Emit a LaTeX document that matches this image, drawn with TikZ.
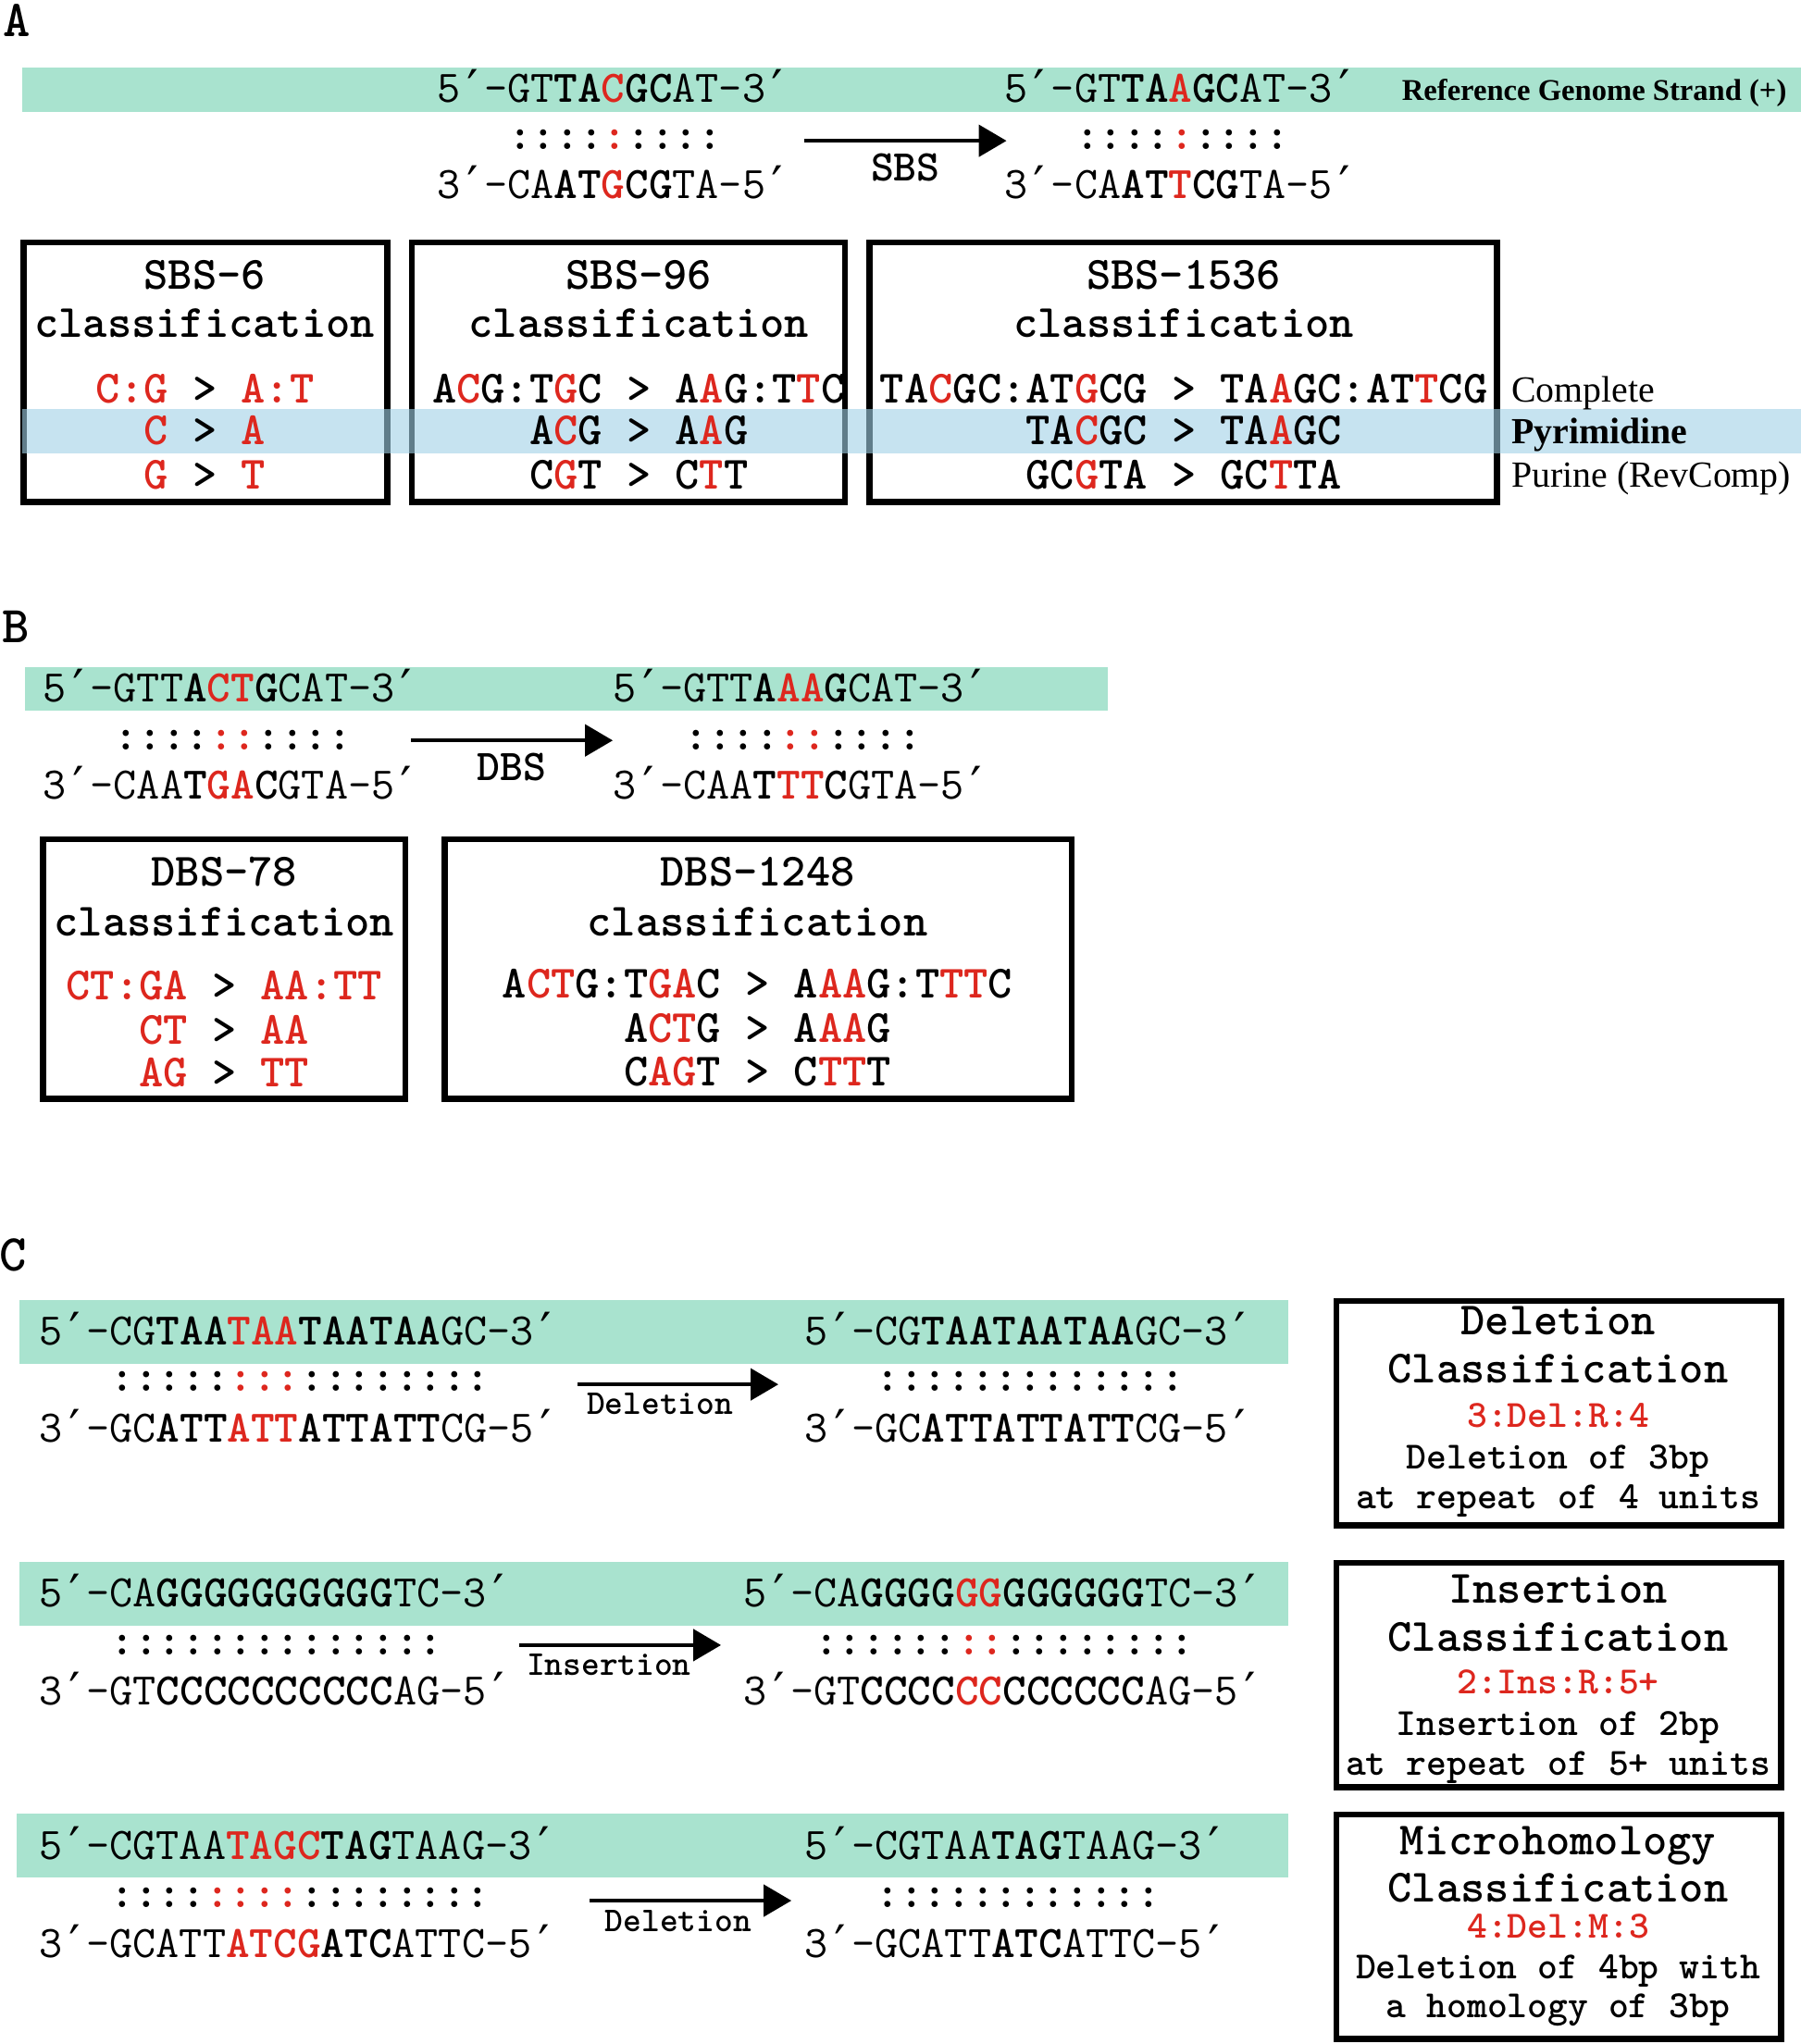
\documentclass[tikz,border=0pt]{standalone}
\usepackage{fontspec}
\usepackage{tikz}
\usetikzlibrary{arrows.meta, positioning, fit}
\newfontfamily\serif{Liberation Serif}
\newfontfamily\primefont{DejaVu Sans Mono}
\definecolor{seqgreen}{RGB}{169,227,207}
\definecolor{pyrblue}{RGB}{160,209,230}
\definecolor{mutred}{RGB}{221,39,30}
\newcommand\seqfont{\ttfamily\fontsize{24.4}{26}\selectfont}
\newcommand\ctfont{\ttfamily\bfseries\fontsize{25}{27}\selectfont}
\newcommand\clfont{\ttfamily\bfseries\fontsize{20.8}{22}\selectfont}
\newcommand\lbfont{\ttfamily\bfseries\fontsize{23.7}{25}\selectfont}
\newcommand\lbsfont{\ttfamily\bfseries\fontsize{18.8}{20}\selectfont}
\def\bb#1{\textbf{#1}}
\def\rr#1{\textcolor{mutred}{\textbf{#1}}}
\def\rd#1{\textcolor{mutred}{#1}}
\def\pr{\makebox[12.81pt][c]{\raisebox{-2pt}{\primefont\mdseries\fontsize{27}{27}\selectfont ′}}}
\def\gap{\phantom{5\pr-}}

\begin{document}
\begin{tikzpicture}[x=0.7042pt, y=-0.7042pt,
    seq/.style={font=\seqfont, inner sep=0pt, anchor=west, text height=14.9pt, text depth=0pt},
    pairs/.style={font=\seqfont\bfseries, inner sep=0pt, anchor=west, text height=10.5pt, text depth=0pt},
    cbox/.style={draw, line width=3.2pt, inner sep=0pt},
    ctitle/.style={font=\ctfont, inner sep=0pt, text height=15.2pt, text depth=0pt},
    cline/.style={font=\clfont, inner sep=0pt, text height=12.7pt, text depth=0pt},
    mutarrow/.style={line width=2.2pt, -{Triangle[length=15pt, width=17pt]}},
    lbl/.style={font=\lbfont, inner sep=0pt, text height=14.5pt, text depth=0pt},
    lbls/.style={font=\lbsfont, inner sep=0pt, text height=11.5pt, text depth=0pt},
    side/.style={font=\serif\fontsize{19.9}{22}\selectfont, inner sep=0pt, anchor=west, text height=13.2pt, text depth=0pt},
    panel/.style={font=\ttfamily\bfseries\fontsize{28}{30}\selectfont, inner sep=0pt, text height=17pt, text depth=0pt}]
\useasboundingbox (0,0) rectangle (1381,1568);

% strand bands
\fill[seqgreen] (17,52) rectangle (1381,86);
\fill[seqgreen] (19,512) rectangle (850,545);
\fill[seqgreen] (15,997) rectangle (988,1046);
\fill[seqgreen] (15,1198) rectangle (988,1247);
\fill[seqgreen] (13,1391) rectangle (988,1440);

% classification boxes
\node[cbox, fit={(18,186) (297,385)}] (sbs6) {};
\node[cbox, fit={(316,186) (648,385)}] (sbs96) {};
\node[cbox, fit={(667,186) (1148,385)}] (sbs1536) {};
\node[cbox, fit={(33,644) (311,843)}] (dbs78) {};
\node[cbox, fit={(341,644) (822,843)}] (dbs1248) {};
\node[cbox, fit={(1025,998) (1366,1170)}] (delbox) {};
\node[cbox, fit={(1025,1199) (1366,1371)}] (insbox) {};
\node[cbox, fit={(1025,1392) (1366,1564)}] (mhbox) {};

% pyrimidine row
\fill[pyrblue, fill opacity=0.6] (17,314) rectangle (1381,348);

% panel A
\node[panel] (labA) at (13,16) {A};
\node[seq] (sbsTopL) at (335,68) {5\pr-GT\bb{TA}\rr{C}\bb{GC}AT-3\pr};
\node[pairs] (sbsPairL) at (335,107) {\gap::::\rd{:}::::};
\node[seq] (sbsBotL) at (335,142) {3\pr-CA\bb{AT}\rr{G}\bb{CG}TA-5\pr};
\node[seq] (sbsTopR) at (770,68) {5\pr-GT\bb{TA}\rr{A}\bb{GC}AT-3\pr};
\node[pairs] (sbsPairR) at (770,107) {\gap::::\rd{:}::::};
\node[seq] (sbsBotR) at (770,142) {3\pr-CA\bb{AT}\rr{T}\bb{CG}TA-5\pr};
\node[side, font=\serif\bfseries\fontsize{16.3}{18}\selectfont, text height=11pt] (refname) at (1075,69) {Reference Genome Strand (+)};
\coordinate (sbsFrom) at (617,108);
\coordinate (sbsTo) at (772,108);
\draw[mutarrow] (sbsFrom) -- (sbsTo) node[lbl, pos=0.5, below=6pt] (sbsLab) {SBS};

\node[ctitle] (sbs6a) at (157,211) {SBS-6};
\node[ctitle] (sbs6b) at (157,248) {classification};
\node[ctitle] (sbs6c) at (157,298) {\rd{C:G} > \rd{A:T}};
\node[ctitle] (sbs6d) at (157,330) {\rd{C} > \rd{A}};
\node[ctitle] (sbs6e) at (157,364) {\rd{G} > \rd{T}};

\node[ctitle] (sbs96a) at (490,211) {SBS-96};
\node[ctitle] (sbs96b) at (490,248) {classification};
\node[ctitle] (sbs96c) at (490,298) {A\rd{C}G:T\rd{G}C > A\rd{A}G:T\rd{T}C};
\node[ctitle] (sbs96d) at (490,330) {A\rd{C}G > A\rd{A}G};
\node[ctitle] (sbs96e) at (490,364) {C\rd{G}T > C\rd{T}T};

\node[ctitle] (sbs1536a) at (908,211) {SBS-1536};
\node[ctitle] (sbs1536b) at (908,248) {classification};
\node[ctitle] (sbs1536c) at (908,298) {TA\rd{C}GC:AT\rd{G}CG > TA\rd{A}GC:AT\rd{T}CG};
\node[ctitle] (sbs1536d) at (908,330) {TA\rd{C}GC > TA\rd{A}GC};
\node[ctitle] (sbs1536e) at (908,364) {GC\rd{G}TA > GC\rd{T}TA};

\node[side] (complete) at (1159,299) {Complete};
\node[side, font=\serif\bfseries\fontsize{19.9}{22}\selectfont] (pyrim) at (1159,331) {Pyrimidine};
\node[side] (purine) at (1159,364) {Purine (RevComp)};

% panel B
\node[panel] (labB) at (12,481) {B};
\node[seq] (dbsTopL) at (33,528) {5\pr-GTT\bb{A}\rr{CT}\bb{G}CAT-3\pr};
\node[pairs] (dbsPairL) at (33,568) {\gap::::\rd{::}::::};
\node[seq] (dbsBotL) at (33,602) {3\pr-CAA\bb{T}\rr{GA}\bb{C}GTA-5\pr};
\node[seq] (dbsTopR) at (470,528) {5\pr-GTT\bb{A}\rr{AA}\bb{G}CAT-3\pr};
\node[pairs] (dbsPairR) at (470,568) {\gap::::\rd{::}::::};
\node[seq] (dbsBotR) at (470,602) {3\pr-CAA\bb{T}\rr{TT}\bb{C}GTA-5\pr};
\coordinate (dbsFrom) at (315,568);
\coordinate (dbsTo) at (470,568);
\draw[mutarrow] (dbsFrom) -- (dbsTo) node[lbl, pos=0.5, below=6pt] (dbsLab) {DBS};

\node[ctitle] (dbs78a) at (172,669) {DBS-78};
\node[ctitle] (dbs78b) at (172,707) {classification};
\node[ctitle] (dbs78c) at (172,756) {\rd{CT:GA} > \rd{AA:TT}};
\node[ctitle] (dbs78d) at (172,790) {\rd{CT} > \rd{AA}};
\node[ctitle] (dbs78e) at (172,823) {\rd{AG} > \rd{TT}};

\node[ctitle] (dbs1248a) at (581,669) {DBS-1248};
\node[ctitle] (dbs1248b) at (581,707) {classification};
\node[ctitle] (dbs1248c) at (581,755) {A\rd{CT}G:T\rd{GA}C > A\rd{AA}G:T\rd{TT}C};
\node[ctitle] (dbs1248d) at (581,789) {A\rd{CT}G > A\rd{AA}G};
\node[ctitle] (dbs1248e) at (581,822) {C\rd{AG}T > C\rd{TT}T};

% panel C
\node[panel] (labC) at (10,963) {C};
\node[seq] (delTopL) at (30,1021) {5\pr-CG\bb{TAA}\rr{TAA}\bb{TAATAA}GC-3\pr};
\node[pairs] (delPairL) at (30,1060) {\gap:::::\rd{:::}::::::::};
\node[seq] (delBotL) at (30,1096) {3\pr-GC\bb{ATT}\rr{ATT}\bb{ATTATT}CG-5\pr};
\node[seq] (delTopR) at (617,1021) {5\pr-CG\bb{TAATAATAA}GC-3\pr};
\node[pairs] (delPairR) at (617,1060) {\gap:::::::::::::};
\node[seq] (delBotR) at (617,1096) {3\pr-GC\bb{ATTATTATT}CG-5\pr};
\coordinate (delFrom) at (443,1062);
\coordinate (delTo) at (597,1062);
\draw[mutarrow] (delFrom) -- (delTo) node[lbls, pos=0.41, below=3.5pt] (delLab) {Deletion};

\node[seq] (insTopL) at (30,1222) {5\pr-CA\bb{GGGGGGGGGG}TC-3\pr};
\node[pairs] (insPairL) at (30,1262) {\gap::::::::::::::};
\node[seq] (insBotL) at (30,1297) {3\pr-GT\bb{CCCCCCCCCC}AG-5\pr};
\node[seq] (insTopR) at (570,1222) {5\pr-CA\bb{GGGG}\rr{GG}\bb{GGGGGG}TC-3\pr};
\node[pairs] (insPairR) at (570,1262) {\gap::::::\rd{::}::::::::};
\node[seq] (insBotR) at (570,1297) {3\pr-GT\bb{CCCC}\rr{CC}\bb{CCCCCC}AG-5\pr};
\coordinate (insFrom) at (398,1262);
\coordinate (insTo) at (553,1262);
\draw[mutarrow] (insFrom) -- (insTo) node[lbls, pos=0.445, below=3.5pt] (insLab) {Insertion};

\node[seq] (mhTopL) at (30,1416) {5\pr-CGTAA\rr{TAGC}\bb{TAG}TAAG-3\pr};
\node[pairs] (mhPairL) at (30,1456) {\gap::::\rd{::::}::::::::};
\node[seq] (mhBotL) at (30,1491) {3\pr-GCATT\rr{ATCG}\bb{ATC}ATTC-5\pr};
\node[seq] (mhTopR) at (617,1416) {5\pr-CGTAA\bb{TAG}TAAG-3\pr};
\node[pairs] (mhPairR) at (617,1456) {\gap::::::::::::};
\node[seq] (mhBotR) at (617,1491) {3\pr-GCATT\bb{ATC}ATTC-5\pr};
\coordinate (mhFrom) at (452,1458);
\coordinate (mhTo) at (607,1458);
\draw[mutarrow] (mhFrom) -- (mhTo) node[lbls, pos=0.44, below=4pt] (mhLab) {Deletion};

\node[ctitle] (delA) at (1195,1013) {Deletion};
\node[ctitle] (delB) at (1195,1050) {Classification};
\node[cline, text=mutred] (delC) at (1195,1086) {3:Del:R:4};
\node[cline] (delD) at (1195,1118) {Deletion of 3bp};
\node[cline] (delE) at (1195,1148) {at repeat of 4 units};

\node[ctitle] (insA) at (1195,1219) {Insertion};
\node[ctitle] (insB) at (1195,1256) {Classification};
\node[cline, text=mutred] (insC) at (1195,1290) {2:Ins:R:5+};
\node[cline] (insD) at (1195,1322) {Insertion of 2bp};
\node[cline] (insE) at (1195,1353) {at repeat of 5+ units};

\node[ctitle] (mhA) at (1195,1412) {Microhomology};
\node[ctitle] (mhB) at (1195,1448) {Classification};
\node[cline, text=mutred] (mhC) at (1195,1478) {4:Del:M:3};
\node[cline] (mhD) at (1195,1509) {Deletion of 4bp with};
\node[cline] (mhE) at (1195,1539) {a homology of 3bp};
\end{tikzpicture}
\end{document}
